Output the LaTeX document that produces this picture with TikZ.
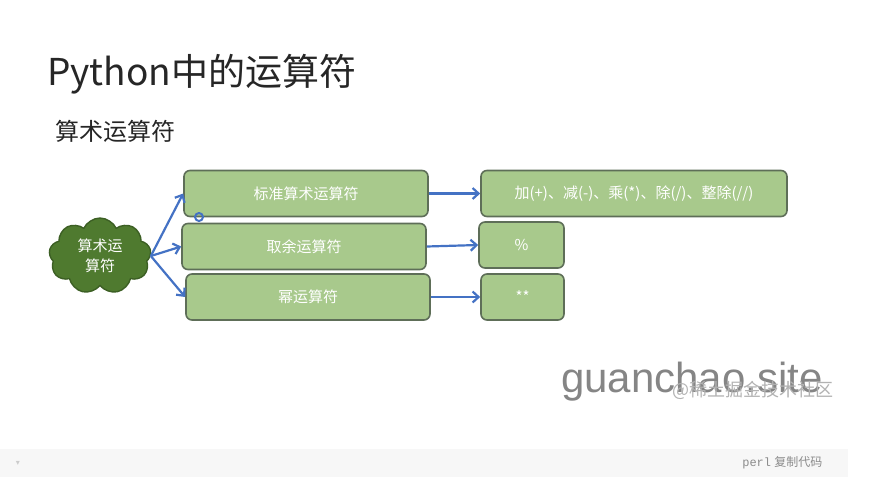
\documentclass[tikz,border=0pt]{standalone}
\usepackage{fontspec}
\setmainfont{Liberation Sans}
\newfontfamily\cjk{Noto Sans CJK SC}
\newfontfamily\monofont{Liberation Mono}
\newfontfamily\symfont{DejaVu Sans}
\usetikzlibrary{shapes.symbols,arrows.meta}
\definecolor{boxfill}{HTML}{A8C98C}
\definecolor{boxline}{HTML}{5E6E58}
\definecolor{cloudfill}{HTML}{4F7A2F}
\definecolor{cloudline}{HTML}{3C5F24}
\definecolor{arrowblue}{HTML}{4472C4}
\definecolor{barbg}{HTML}{F7F7F7}
\begin{document}
\begin{tikzpicture}[x=1pt,y=-1pt,line join=round,>={Straight Barb[length=6pt,width=11pt]}]
\tikzset{opbox/.style={draw=boxline,line width=1.6pt,fill=boxfill,rounded corners=6pt,
  minimum height=46,inner sep=0,text=white,font=\cjk\fontsize{15}{17}\selectfont},
arr/.style={->,draw=arrowblue,line width=2.2pt}
}
\useasboundingbox (0,0) rectangle (873,477);
% bottom code bar
\fill[barbg] (0,449) rectangle (848,477);
\node[text=black!20,font=\symfont\fontsize{8}{8}\selectfont] (fold) at (18,463) {▾};
\node[anchor=east,text=black!45,font=\fontsize{12}{14}\selectfont] (copy) at (826,463) {{\monofont perl} {\cjk 复制代码}};
% headings
\node[anchor=base west,inner sep=0,text=black!85,font=\cjk\fontsize{37}{40}\selectfont] (title) at (47,85) {Python中的运算符};
\node[anchor=base west,inner sep=0,text=black!85,font=\cjk\fontsize{24}{26}\selectfont] (sub) at (55,140) {算术运算符};
% cloud
\node[cloud,cloud puffs=9,cloud puff arc=130,aspect=1.35,draw=cloudline,line width=1.4pt,fill=cloudfill,
  minimum width=102,minimum height=76,inner sep=0,text=white,align=center,
  font=\cjk\fontsize{15}{20}\selectfont] (arith) at (100,256) {算术运\\算符};
% boxes
\node[opbox,minimum width=244] (std) at (306,193.5) {标准算术运算符};
\node[opbox,minimum width=244] (mod) at (304,246.5) {取余运算符};
\node[opbox,minimum width=244] (pow) at (308,297) {幂运算符};
\node[opbox,minimum width=306] (stdops) at (634,193.5) {加(+)、减(-)、乘(*)、除(/)、整除(//)};
\node[opbox,minimum width=85] (modop) at (521.5,245) {\%};
\node[opbox,minimum width=83] (powop) at (522.5,297) {**};
% arrows
\draw[arr] (arith.east) -- (std.west);
\draw[arr] (arith.east) -- (mod.west);
\draw[arr] (arith.east) -- (pow.west);
\draw[arr] (std.east) -- (stdops.west);
\draw[arr] (mod.east) -- (modop.west);
\draw[arr] (pow.east) -- (powop.west);
\draw[arrowblue,line width=2pt] (199,217) circle (4);
% watermark
\node[anchor=base west,inner sep=0,text=black!48,font=\fontsize{42}{44}\selectfont] (site) at (561,392) {guanchao.site};
\node[anchor=base west,inner sep=0,text=black!30,font=\cjk\fontsize{18}{20}\selectfont] (mark) at (672,396) {@稀土掘金技术社区};
\end{tikzpicture}
\end{document}
